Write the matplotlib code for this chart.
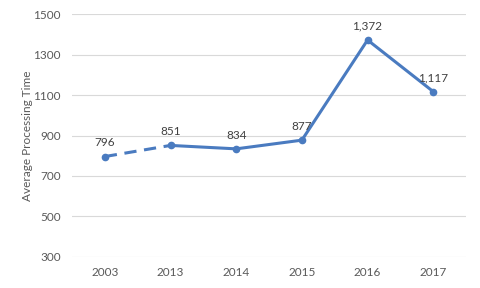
import matplotlib.pyplot as plt

years = ["2003", "2013", "2014", "2015", "2016", "2017"]
values = [796, 851, 834, 877, 1372, 1117]
labels = ["796", "851", "834", "877", "1,372", "1,117"]
yticks = [300, 500, 700, 900, 1100, 1300, 1500]

blue = "#4A7BC0"
plt.rcParams['font.family'] = ['Lato', 'DejaVu Sans']

fig = plt.figure(figsize=(4.8, 2.88), dpi=100)
ax = fig.add_axes([0.15, 0.108, 0.821, 0.843])

x = list(range(len(years)))
# dashed gap between 2003 and 2013
ax.plot(x[:2], values[:2], color=blue, lw=2.2, ls=(0, (4, 2.5)), solid_capstyle='round')
ax.plot(x[1:], values[1:], color=blue, lw=2.2, solid_joinstyle='round')
ax.plot(x, values, 'o', color=blue, ms=4.5)

for xi, v, t in zip(x, values, labels):
    ax.annotate(t, (xi, v), xytext=(0, 6), textcoords='offset points',
                ha='center', va='bottom', fontsize=8.5, color='#404040')

ax.set_xlim(-0.5, len(years) - 0.5)
ax.set_ylim(300, 1500)
ax.set_yticks(yticks)
ax.set_xticks(x)
ax.set_xticklabels(years)
ax.grid(axis='y', color='#D9D9D9', lw=0.8)
ax.set_axisbelow(True)
for s in ax.spines.values():
    s.set_visible(False)
ax.tick_params(length=0, labelsize=8.5, labelcolor='#595959', pad=7)
ax.tick_params(axis='y', pad=8)
ax.set_ylabel("Average Processing Time", fontsize=8.5, color='#595959', labelpad=0)

fig.savefig("out.png", dpi=100)
